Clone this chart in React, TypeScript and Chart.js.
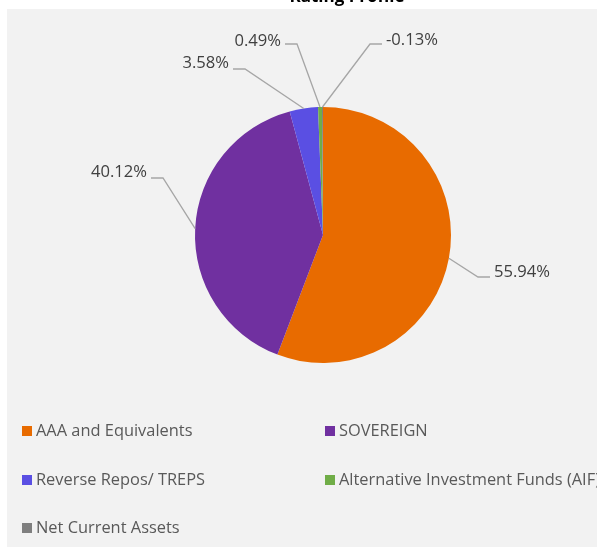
import React, { useEffect, useRef } from 'react';
import { Chart, registerables } from 'chart.js';

Chart.register(...registerables);

const title = 'Rating Profile';
const categories = [
  'AAA and Equivalents',
  'SOVEREIGN',
  'Reverse Repos/ TREPS',
  'Alternative Investment Funds (AIF)',
  'Net Current Assets',
];
const values = [55.94, 40.12, 3.58, 0.49, -0.13];
const colors = ['#E86B00', '#7030A0', '#5A4FE3', '#70AD47', '#7F7F7F'];
const valueLabels = values.map((v) => v.toFixed(2) + '%');

// layout of data labels: elbow offset from the pie centre, and which side the text sits
const labelElbows: [number, number][] = [
  [155, 42],
  [-160, -57],
  [-78, -166],
  [-26, -191],
  [47, -191],
];
const labelTextDy = [-5, -6, -6, -3, -4];

const FONT = '"Open Sans", "DejaVu Sans", sans-serif';

const decorPlugin = {
  id: 'decor',
  beforeDraw(chart: any) {
    const ctx = chart.ctx as CanvasRenderingContext2D;
    const w = chart.width;
    const h = chart.height;
    ctx.save();
    ctx.fillStyle = '#ffffff';
    ctx.fillRect(0, 0, w, h);
    ctx.fillStyle = '#F2F2F2';
    ctx.fillRect(7, 9, w - 7, h - 10);
    ctx.fillStyle = '#000000';
    ctx.font = `bold 17px ${FONT}`;
    ctx.textAlign = 'center';
    ctx.textBaseline = 'alphabetic';
    ctx.fillText(title, 347, 1.5);
    ctx.restore();
  },
  afterDraw(chart: any) {
    const ctx = chart.ctx as CanvasRenderingContext2D;
    const meta = chart.getDatasetMeta(0);
    ctx.save();
    meta.data.forEach((arc: any, i: number) => {
      const { x, y, startAngle, endAngle, outerRadius } = arc.getProps(
        ['x', 'y', 'startAngle', 'endAngle', 'outerRadius'],
        true
      );
      const mid = (startAngle + endAngle) / 2;
      const sx = x + Math.cos(mid) * outerRadius;
      const sy = y + Math.sin(mid) * outerRadius;
      const [ex, ey] = labelElbows[i];
      const bx = x + ex;
      const by = y + ey;
      const right = ex > 0;
      const hx = bx + (right ? 12 : -12);
      ctx.strokeStyle = '#A6A6A6';
      ctx.lineWidth = 1.3;
      ctx.beginPath();
      ctx.moveTo(sx, sy);
      ctx.lineTo(bx, by);
      ctx.lineTo(hx, by);
      ctx.stroke();
      ctx.fillStyle = '#404040';
      ctx.font = `16.6px ${FONT}`;
      ctx.textBaseline = 'middle';
      ctx.textAlign = right ? 'left' : 'right';
      ctx.fillText(valueLabels[i], hx + (right ? 4 : -4), by + labelTextDy[i]);
    });

    // legend
    const colX = [22, 325];
    const rowY = [431, 480, 528];
    ctx.font = `16.4px ${FONT}`;
    ctx.textAlign = 'left';
    ctx.textBaseline = 'middle';
    categories.forEach((c, i) => {
      const cx = colX[i % 2];
      const cy = rowY[Math.floor(i / 2)];
      ctx.fillStyle = colors[i];
      ctx.fillRect(cx, cy - 5, 10, 10);
      ctx.fillStyle = '#595959';
      ctx.fillText(c, cx + 14, cy);
    });
    ctx.restore();
  },
};

export default function App() {
  const ref = useRef<HTMLCanvasElement | null>(null);
  useEffect(() => {
    if (!ref.current) return;
    const chart = new Chart(ref.current, {
      type: 'pie',
      data: {
        labels: categories,
        datasets: [
          {
            data: values.map((v) => Math.abs(v)),
            backgroundColor: colors,
            borderWidth: 0,
            hoverOffset: 0,
            offset: 0,
          },
        ],
      },
      options: {
        responsive: true,
        maintainAspectRatio: false,
        animation: false,
        events: [],
        layout: { padding: { left: 195, right: 146, top: 107, bottom: 185 } },
        plugins: {
          legend: { display: false },
          title: { display: false },
          tooltip: { enabled: false },
        },
      },
      plugins: [decorPlugin],
    });
    return () => chart.destroy();
  }, []);
  return (
    <div style={{ position: 'absolute', left: 0, top: 0, width: 597, height: 548 }}>
      <canvas ref={ref} />
    </div>
  );
}
